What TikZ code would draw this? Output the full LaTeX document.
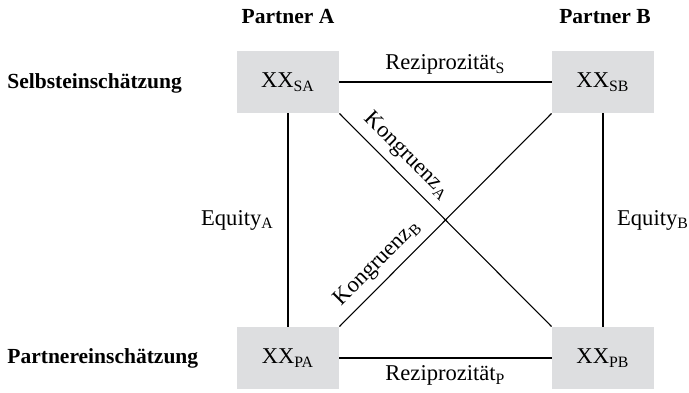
\documentclass[tikz,border=0pt]{standalone}
\usepackage{fontspec}
\setmainfont{Liberation Serif}
\definecolor{boxgray}{RGB}{221,222,224}
\tikzset{
  xxbox/.style={fill=boxgray, minimum width=47.4pt, minimum height=28.8pt, inner sep=0pt},
  head/.style={font=\bfseries},
  rowlab/.style={font=\bfseries, anchor=west, inner sep=0pt},
  link/.style={line width=0.5pt}
}
\begin{document}
\begin{tikzpicture}[x=0.465pt, y=-0.465pt, font=\fontsize{10.5}{12}\selectfont]
    \useasboundingbox (0,0) rectangle (689,393);
    \node[head]   (hdA) at (288, 17) {Partner A};
    \node[head]   (hdB) at (605, 17) {Partner B};
    \node[rowlab] (rowS) at (7, 83)  {Selbsteinschätzung};
    \node[rowlab] (rowP) at (7, 358) {Partnereinschätzung};
    \node[xxbox]  (SA) at (288, 82)  {XX\textsubscript{SA}};
    \node[xxbox]  (SB) at (603, 82)  {XX\textsubscript{SB}};
    \node[xxbox]  (PA) at (288, 358) {XX\textsubscript{PA}};
    \node[xxbox]  (PB) at (603, 358) {XX\textsubscript{PB}};
    \draw[link] (SA.east)  to node[above]{Reziprozität\textsubscript{S}} (SB.west);
    \draw[link] (PA.east)  to node[below]{Reziprozität\textsubscript{P}} (PB.west);
    \draw[link] (SA.south) to node[left=3pt]{Equity\textsubscript{A}}  (PA.north);
    \draw[link] (SB.south) to node[right=3pt]{Equity\textsubscript{B}} (PB.north);
    \draw[link] (SA.south east) to node[sloped, above, pos=0.26]{Kongruenz\textsubscript{A}} (PB.north west);
    \draw[link] (PA.north east) to node[sloped, above, pos=0.24]{Kongruenz\textsubscript{B}} (SB.south west);
  \end{tikzpicture}
\end{document}
